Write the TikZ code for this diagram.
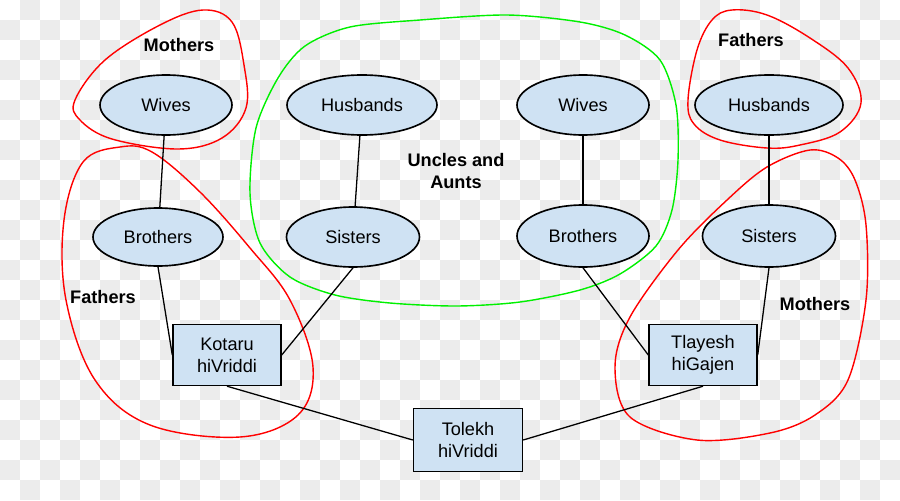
\documentclass[tikz,border=0pt]{standalone}
\usepackage{fontspec}
\setmainfont{Liberation Sans}
\usetikzlibrary{shapes.geometric}

\definecolor{checker}{RGB}{236,236,236}
\definecolor{nodeblue}{RGB}{207,226,243}
\definecolor{grpred}{RGB}{255,0,0}
\definecolor{grpgreen}{RGB}{0,240,0}

\newcommand{\pxu}{0.03cm}

\begin{document}
\begin{tikzpicture}[
			x=\pxu, y=-\pxu,
			person/.style={
				ellipse,
				draw,
				fill=nodeblue,
				line width=1.4pt,
				inner sep=0pt,
				font=\fontsize{15.5}{18.5}\selectfont
			},
			parent/.style={
				rectangle,
				draw,
				fill=nodeblue,
				line width=1.2pt,
				align=center,
				minimum width=108*\pxu,
				minimum height=61*\pxu,
				inner sep=0pt,
				font=\fontsize{15.5}{18.5}\selectfont
			},
			grouplabel/.style={
				align=center,
				font=\fontsize{15.5}{18.5}\selectfont\bfseries
			}
			]

			% Background checker
			\useasboundingbox (0,0) rectangle (900,500);
			\foreach \i in {0,...,44} {
				\foreach \j in {0,...,24} {
					\pgfmathtruncatemacro\odd{mod(\i+\j,2)}
					\ifnum\odd=1
						\fill[checker] (20*\i,20*\j) rectangle ++(20,20);
					\fi
				}
			}

			% Group boundaries
			\draw[grpred, line width=1.2pt] plot [smooth cycle, tension=0.6] coordinates
			{(75,100) (105,60) (160,25) (203,10) (232,22) (244,65) (246,108) (222,138) (178,149) (112,139) (80,120)};

			\draw[grpred, line width=1.2pt] plot [smooth cycle, tension=0.6] coordinates
			{(120,147) (83,162) (64,220) (66,300) (95,380) (150,425) (240,437) (298,415) (313,367) (290,300) (250,248) (200,192) (152,152)};

			\draw[grpgreen, line width=1.2pt] plot [smooth cycle, tension=0.5] coordinates
			{(250,193) (256,128) (278,78) (305,46) (350,27) (420,20) (507,15) (580,22) (625,35) (660,60) (676,105) (678,160) (672,210) (656,246) (620,274) (580,290) (520,302) (457,306) (390,303) (335,295) (290,277) (260,243)};

			\draw[grpred, line width=1.2pt] plot [smooth cycle, tension=0.6] coordinates
			{(688,100) (697,50) (712,20) (732,10) (767,15) (810,38) (848,68) (861,103) (840,132) (800,145) (767,148) (720,140) (694,124)};

			\draw[grpred, line width=1.2pt] plot [smooth cycle, tension=0.55] coordinates
			{(810,150) (767,167) (727,200) (678,250) (630,317) (615,367) (630,417) (697,440) (770,433) (815,415) (848,380) (866,300) (866,225) (855,180) (838,158)};

			% Father's side
			\node[person, minimum width=132*\pxu, minimum height=60*\pxu] (p1) at (166,105) {Wives};
			\node[person, minimum width=130*\pxu, minimum height=58*\pxu] (p2) at (158,237) {Brothers};

			% Uncles and aunts
			\node[person, minimum width=150*\pxu, minimum height=60*\pxu] (u1) at (362,105) {Husbands};
			\node[person, minimum width=133*\pxu, minimum height=60*\pxu] (u2) at (353,237) {Sisters};
			\node[person, minimum width=132*\pxu, minimum height=60*\pxu] (u3) at (583,105) {Wives};
			\node[person, minimum width=132*\pxu, minimum height=62*\pxu] (u4) at (583,236) {Brothers};

			% Mother's side
			\node[person, minimum width=148*\pxu, minimum height=60*\pxu] (q1) at (769,105) {Husbands};
			\node[person, minimum width=133*\pxu, minimum height=62*\pxu] (q2) at (769,236) {Sisters};

			% Parents and child
			\node[parent] (k1) at (227,355) {Kotaru\\hiVriddi};
			\node[parent] (k2) at (703,355) {Tlayesh\\hiGajen};
			\node[parent, minimum width=109*\pxu, minimum height=63*\pxu] (k3) at (468,440) {Tolekh\\hiVriddi};

			% Labels
			\node[grouplabel] (l1) at (179,45) {Mothers};
			\node[grouplabel] (l2) at (103,297) {Fathers};
			\node[grouplabel] (l3) at (456,171) {Uncles and\\Aunts};
			\node[grouplabel] (l4) at (751,40) {Fathers};
			\node[grouplabel] (l5) at (815,304) {Mothers};

			% Connections
			\draw[line width=1.1pt] (p1) -- (p2);
			\draw[line width=1.1pt] (u1) -- (u2);
			\draw[line width=1.1pt] (u3) -- (u4);
			\draw[line width=1.1pt] (q1) -- (q2);
			\draw[line width=1.1pt] (p2.south) -- (k1.west);
			\draw[line width=1.1pt] (u2.south) -- (k1.east);
			\draw[line width=1.1pt] (u4.south) -- (k2.west);
			\draw[line width=1.1pt] (q2.south) -- (k2.east);
			\draw[line width=1.1pt] (k1.south) -- (k3.west);
			\draw[line width=1.1pt] (k3.east) -- (k2.south);

		\end{tikzpicture}
\end{document}
